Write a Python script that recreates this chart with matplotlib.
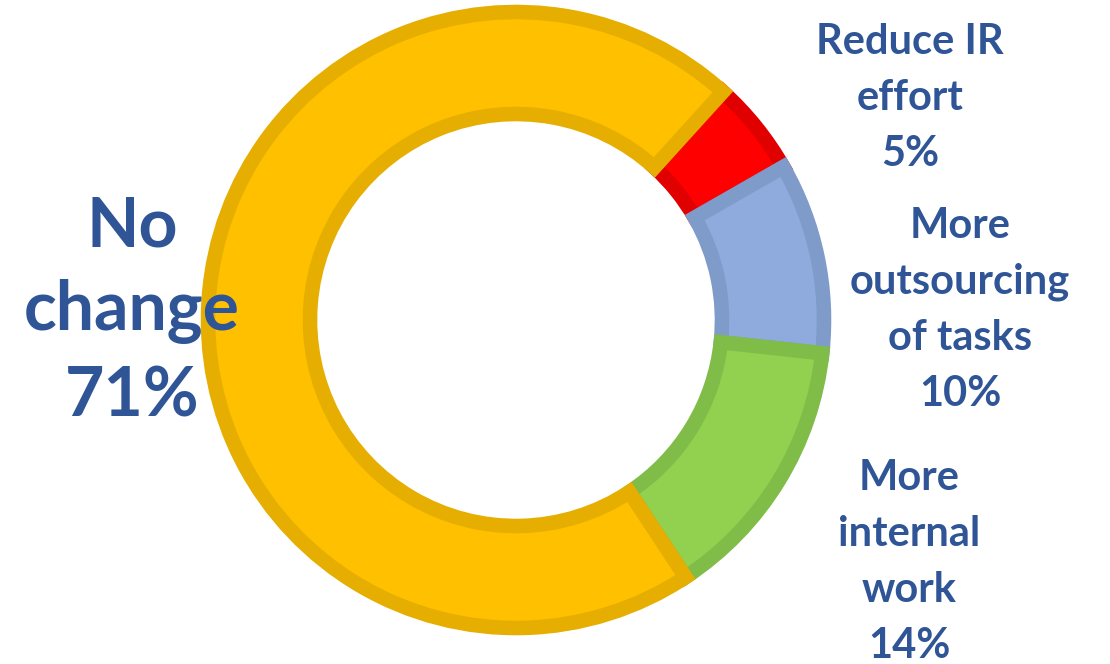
import matplotlib
matplotlib.use("Agg")
import matplotlib.pyplot as plt

categories = ["Reduce IR\neffort", "More\noutsourcing\nof tasks", "More\ninternal\nwork", "No\nchange"]
values = [5, 10, 14, 71]
fill_colors = ["#FF0000", "#8FAADC", "#92D050", "#FFC000"]
edge_colors = ["#E10000", "#7F9BCA", "#80BC48", "#E6AE00"]
text_color = "#2F5597"

W, H = 1110, 664
fig = plt.figure(figsize=(W / 100, H / 100), dpi=100)
ax = fig.add_axes([0, 0, 1, 1])
ax.set_xlim(0, W)
ax.set_ylim(0, H)
ax.set_aspect("equal")
ax.axis("off")

cx, cy = 516, H - 320
wedges, _ = ax.pie(values, colors=fill_colors, startangle=47.8, counterclock=False,
                   radius=308, center=(cx, cy),
                   wedgeprops=dict(width=102, linewidth=10.5))
for w, ec in zip(wedges, edge_colors):
    w.set_edgecolor(ec)
    w.set_clip_path(w)
ax.set_xlim(0, W)
ax.set_ylim(0, H)

font = "Lato"
# label positions (pixel centers) and sizes
label_pos = [(910, 98), (960, 310), (909, 562), (132, 312)]
label_size = [30, 30, 30, 49]
label_ls = [1.58, 1.58, 1.58, 1.41]
for lab, v, (x, y), fs, ls in zip(categories, values, label_pos, label_size, label_ls):
    ax.text(x, H - y, f"{lab}\n{v}%", ha="center", va="center", fontsize=fs,
            fontweight="bold", color=text_color, family=font, linespacing=ls)

fig.savefig("out.png", dpi=100)
